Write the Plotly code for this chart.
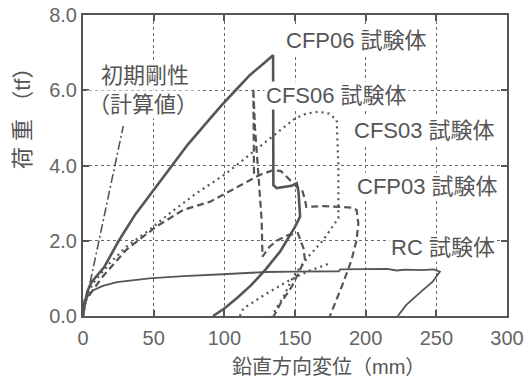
import plotly.graph_objects as go

# ---------------- data ----------------
x_init = [0, 28.5]
y_init = [0, 5.05]

x_cfp06 = [0, 0.5, 1.2, 3, 6, 15, 25, 37, 50, 62.5, 74, 87, 98, 108, 118, 128, 134.5,
           134.7, 137, 147.6, 151.2, 152.5, 153, 153.6, 150, 144.2, 139.4, 128.8, 119, 109, 100, 92]
y_cfp06 = [0, 0.15, 0.3, 0.65, 0.9, 1.3, 1.98, 2.7, 3.35, 4.0, 4.55, 5.12, 5.6, 6.0, 6.4, 6.72, 6.93,
           3.48, 3.4, 3.46, 3.53, 3.3, 2.85, 2.64, 2.37, 2.02, 1.71, 1.22, 0.82, 0.48, 0.2, 0]

x_rc = [0, 0.3, 1, 3, 7, 14, 24, 47, 71, 99, 129, 150, 181, 182, 200, 215, 222, 228, 240, 248,
        252.5, 247.4, 237.8, 228.6, 222.7]
y_rc = [0, 0.3, 0.42, 0.5, 0.68, 0.8, 0.9, 1.0, 1.06, 1.11, 1.17, 1.18, 1.19, 1.24, 1.24, 1.25,
        1.21, 1.23, 1.22, 1.24, 1.18, 0.91, 0.6, 0.29, 0]

x_cfp03 = [0, 1, 7, 14, 30.6, 52, 71, 90, 101, 113, 125, 135, 140, 145, 151, 155, 157, 158, 170,
           182, 190, 193.6, 194.8, 193.6, 190, 184, 179.4, 174.7]
y_cfp03 = [0, 0.35, 0.69, 1.05, 1.76, 2.38, 2.82, 3.04, 3.26, 3.5, 3.75, 3.88, 3.85, 3.67, 3.44,
           3.35, 3.1, 2.9, 2.92, 2.9, 2.88, 2.82, 2.46, 2.02, 1.49, 0.87, 0.43, 0]

x_cfs06 = [121, 120.5, 121.7, 124, 126.4, 127, 132, 137, 145, 152, 156, 157, 153, 148, 140, 135]
y_cfs06 = [3.78, 6.05, 5.0, 3.8, 2.55, 1.58, 1.84, 2.0, 2.15, 2.2, 1.8, 1.5, 1.2, 0.8, 0.35, 0]

x_cfs03 = [0, 1, 7.1, 18.8, 30.6, 47.1, 61.3, 80.2, 101.4, 115, 134.7, 150, 158, 166.5, 174,
           179.5, 180.7, 181, 180.7, 170, 159.5, 148.8, 141.8, 136.6, 134]
y_cfs03 = [0, 0.4, 0.87, 1.40, 1.84, 2.29, 2.73, 3.26, 3.79, 4.2, 4.77, 5.25, 5.38, 5.43, 5.38,
           5.21, 4.0, 2.8, 2.6, 2.02, 1.58, 1.05, 0.51, 0.2, 0]

x_cfs03b = [111, 113.4, 130, 146.5, 160, 174.8]
y_cfs03b = [0, 0.2, 0.6, 0.96, 1.2, 1.4]

x_ticks = [0, 50, 100, 150, 200, 250, 300]
y_ticks = [0, 2, 4, 6, 8]
y_tick_text = ["0.0", "2.0", "4.0", "6.0", "8.0"]

labels = ["初期剛性", "（計算値）", "CFP06 試験体", "CFS06 試験体", "CFS03 試験体", "CFP03 試験体", "RC 試験体"]
label_x = [43.9, 42.8, 193.2, 179.7, 241.3, 243.4, 254.7]
label_y = [6.38, 5.63, 7.31, 5.87, 4.94, 3.43, 1.81]

# ---------------- figure ----------------
C = "#555555"
LAT = "Liberation Sans, Arial, Noto Sans CJK JP"
fig = go.Figure()

def add(x, y, width, dash):
    fig.add_trace(go.Scatter(x=x, y=y, mode="lines",
                             line=dict(color=C, width=width, dash=dash),
                             hoverinfo="skip"))

add(x_init, y_init, 1.6, "9px,3px,2px,3px")
add(x_cfs03, y_cfs03, 2.2, "2px,4px")
add(x_cfs03b, y_cfs03b, 2.2, "2px,4px")
add(x_cfp03, y_cfp03, 2.2, "7px,4px")
add(x_cfs06, y_cfs06, 2.2, "7px,4px")
add(x_rc, y_rc, 1.8, "solid")
add(x_cfp06, y_cfp06, 2.6, "solid")

for t, lx, ly in zip(labels, label_x, label_y):
    fig.add_annotation(x=lx, y=ly, text=t, showarrow=False, xref="x", yref="y",
                       xanchor="center", yanchor="middle",
                       font=dict(family=LAT, size=22, color=C),
                       bgcolor="white", borderpad=1)

axis_common = dict(showline=True, linecolor=C, linewidth=2, mirror="ticks",
                   ticks="inside", ticklen=6, tickwidth=1.5, tickcolor=C,
                   showgrid=True, gridcolor="#666666", gridwidth=1.3, griddash="dot",
                   zeroline=False, automargin=False,
                   tickfont=dict(family=LAT, size=20, color="#666666"))

fig.update_xaxes(range=[0, 300], tickvals=x_ticks, ticklabelstandoff=3, **axis_common)
fig.update_yaxes(range=[0, 8], tickvals=y_ticks, ticktext=y_tick_text, **axis_common)

fig.add_annotation(xref="paper", yref="paper", x=0.58, y=-0.168, text="鉛直方向変位（mm）",
                   xanchor="center", yanchor="middle",
                   showarrow=False, font=dict(family=LAT, size=20, color=C))
fig.add_annotation(xref="paper", yref="paper", x=-0.144, y=0.674, text="荷 重 （tf）", textangle=-90,
                   xanchor="center", yanchor="middle",
                   showarrow=False, font=dict(family=LAT, size=22, color=C))

fig.update_layout(width=532, height=379, margin=dict(l=83, r=25, t=15, b=63),
                  plot_bgcolor="white", paper_bgcolor="white", showlegend=False)

fig.write_html("out.html")
